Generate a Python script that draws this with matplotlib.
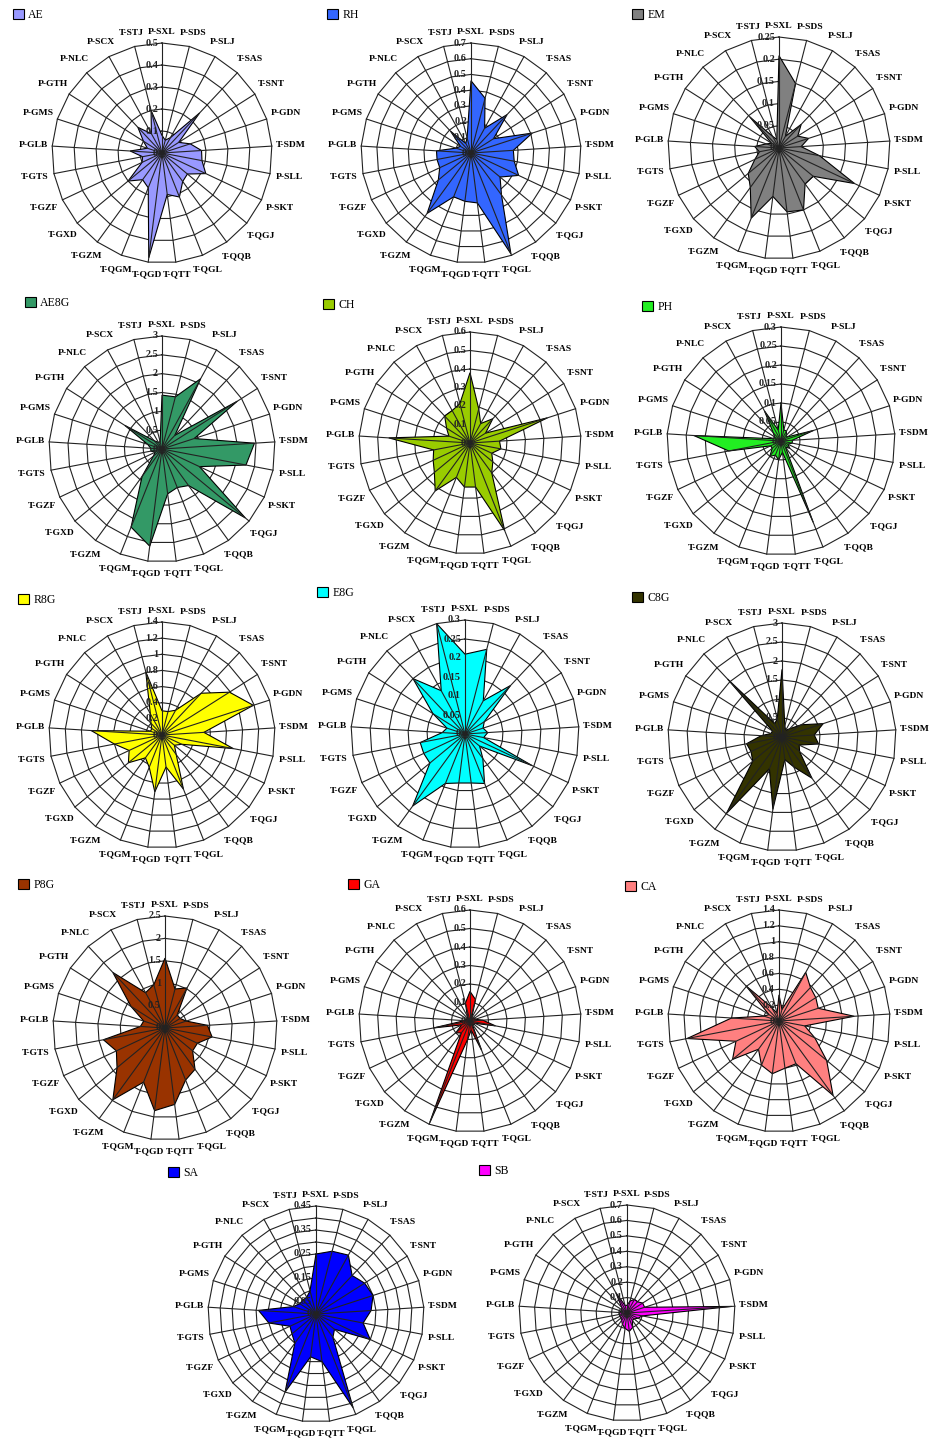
import numpy as np
import matplotlib
matplotlib.use('Agg')
import matplotlib.pyplot as plt
from matplotlib.patches import Patch

categories = ['P-SXL', 'P-SDS', 'P-SLJ', 'T-SAS', 'T-SNT', 'P-GDN', 'T-SDM',
              'P-SLL', 'P-SKT', 'T-QGJ', 'T-QQB', 'T-QGL', 'T-QTT', 'T-QGD',
              'T-QGM', 'T-GZM', 'T-GXD', 'T-GZF', 'T-GTS', 'P-GLB', 'P-GMS',
              'P-GTH', 'P-NLC', 'P-SCX', 'T-STJ']

# values per sample, same order as categories
AE = [0.08, 0.06, 0.08, 0.25, 0.09, 0.135, 0.18, 0.185, 0.22, 0.15, 0.16, 0.215, 0.19,
      0.48, 0.17, 0.15, 0.2, 0.1, 0.09, 0.145, 0.07, 0.1, 0.16, 0.1, 0.2]
RH = [0.46, 0.36, 0.18, 0.335, 0.17, 0.41, 0.27, 0.28, 0.335, 0.24, 0.33, 0.69, 0.32,
      0.31, 0.3, 0.475, 0.27, 0.22, 0.22, 0.22, 0.1, 0.08, 0.19, 0.07, 0.1]
EM = [0.208, 0.15, 0.03, 0.073, 0.05, 0.07, 0.05, 0.093, 0.188, 0.1, 0.1, 0.15, 0.145,
      0.11, 0.17, 0.11, 0.09, 0.06, 0.045, 0.055, 0.03, 0.02, 0.096, 0.03, 0.02]
AE8G = [1.43, 1.43, 2.13, 0.5, 2.37, 0.9, 2.46, 2.27, 1.1, 2.87, 1.2, 1.1, 1.2,
        2.6, 2.23, 0.9, 0.3, 0.2, 0.3, 0.3, 0.4, 1.17, 0.3, 0.2, 0.2]
CH = [0.38, 0.19, 0.12, 0.18, 0.1, 0.44, 0.16, 0.17, 0.13, 0.16, 0.2, 0.51, 0.24,
      0.24, 0.2, 0.32, 0.25, 0.22, 0.2, 0.44, 0.12, 0.15, 0.2, 0.2, 0.22]
PH = [0.1, 0.03, 0.03, 0.02, 0.02, 0.09, 0.03, 0.03, 0.02, 0.03, 0.02, 0.23, 0.03,
      0.05, 0.04, 0.05, 0.03, 0.03, 0.14, 0.23, 0.02, 0.02, 0.03, 0.09, 0.03]
R8G = [0.3, 0.3, 0.35, 0.71, 0.99, 1.19, 0.52, 0.9, 0.27, 0.2, 0.3, 0.72, 0.4,
       0.71, 0.43, 0.35, 0.54, 0.45, 0.6, 0.88, 0.15, 0.15, 0.2, 0.3, 0.81]
E8G = [0.21, 0.23, 0.1, 0.175, 0.06, 0.05, 0.06, 0.05, 0.195, 0.05, 0.08, 0.14, 0.13,
       0.13, 0.14, 0.234, 0.12, 0.12, 0.12, 0.06, 0.05, 0.1, 0.2, 0.13, 0.3]
C8G = [1.78, 0.3, 0.2, 0.3, 0.6, 1.14, 0.85, 0.98, 0.5, 0.6, 1.34, 0.85, 0.6,
       1.92, 0.9, 2.49, 1.0, 0.9, 0.95, 0.55, 0.3, 0.3, 2.09, 0.4, 0.5]
P8G = [1.56, 0.9, 1.02, 0.4, 0.4, 0.5, 0.95, 1.07, 0.8, 0.8, 1.14, 1.25, 1.72,
       1.86, 1.3, 1.98, 1.39, 1.2, 1.4, 0.55, 0.5, 0.9, 1.7, 0.9, 1.0]
GA = [0.16, 0.12, 0.02, 0.02, 0.03, 0.03, 0.07, 0.14, 0.03, 0.03, 0.02, 0.17, 0.05,
      0.1, 0.59, 0.08, 0.1, 0.05, 0.2, 0.03, 0.02, 0.02, 0.02, 0.03, 0.1]
CA = [0.33, 0.15, 0.7, 0.58, 0.55, 0.52, 0.95, 0.33, 0.5, 0.78, 1.16, 0.58, 0.6,
      0.67, 0.6, 0.44, 0.76, 0.6, 1.18, 0.6, 0.2, 0.15, 0.61, 0.2, 0.1]
SA = [0.25, 0.27, 0.28, 0.22, 0.24, 0.25, 0.23, 0.2, 0.25, 0.1, 0.12, 0.42, 0.2,
      0.18, 0.35, 0.15, 0.13, 0.12, 0.2, 0.24, 0.1, 0.08, 0.08, 0.08, 0.1]
SB = [0.05, 0.08, 0.1, 0.1, 0.12, 0.12, 0.68, 0.1, 0.08, 0.06, 0.06, 0.1, 0.12,
      0.1, 0.08, 0.06, 0.05, 0.05, 0.05, 0.05, 0.04, 0.04, 0.05, 0.15, 0.05]

names = ['AE', 'RH', 'EM', 'AE8G', 'CH', 'PH', 'R8G', 'E8G', 'C8G', 'P8G', 'GA', 'CA', 'SA', 'SB']
series = [AE, RH, EM, AE8G, CH, PH, R8G, E8G, C8G, P8G, GA, CA, SA, SB]
colors = ['#9999FF', '#3366FF', '#808080', '#339966', '#99CC00', '#22EE22', '#FFFF00',
          '#00FFFF', '#333300', '#993300', '#FF0000', '#FF8080', '#0000FF', '#FF00FF']
axis_max = [0.5, 0.7, 0.25, 3, 0.6, 0.3, 1.4, 0.3, 3, 2.5, 0.6, 1.4, 0.45, 0.7]
axis_step = [0.1, 0.1, 0.05, 0.5, 0.1, 0.05, 0.2, 0.05, 0.5, 0.5, 0.1, 0.2, 0.05, 0.1]
# SA only shows every other value label
label_every = [1, 1, 1, 1, 1, 1, 1, 1, 1, 1, 1, 1, 2, 1]

# layout in pixels: centre x, centre y, outer radius, legend x, legend y
layout = [(162, 153, 110, 13, 9), (471, 153, 110, 327, 9), (779, 148, 111, 632, 9),
          (162, 449, 113, 25, 297), (470, 443, 111, 323, 299), (781, 441, 114, 642, 301),
          (162, 735, 113, 18, 594), (465, 734, 114, 317, 587), (782, 737, 114, 632, 592),
          (165, 1028, 112, 18, 879), (470, 1021, 111, 348, 879), (779, 1021, 111, 625, 881),
          (316, 1314, 108, 168, 1167), (627, 1313, 108, 479, 1165)]

W, H = 935, 1446
fig = plt.figure(figsize=(W / 100, H / 100), dpi=100)
fig.patch.set_facecolor('white')
FONT = 'Liberation Serif'

n = len(categories)
theta = np.arange(n) * 2 * np.pi / n
tc = np.append(theta, theta[0])

for name, vals, col, vmax, step, every, (cx, cy, R, lx, ly) in zip(
        names, series, colors, axis_max, axis_step, label_every, layout):
    ax = fig.add_axes([(cx - R) / W, (H - cy - R) / H, 2 * R / W, 2 * R / H], projection='polar')
    ax.set_theta_zero_location('N')
    ax.set_theta_direction(-1)
    ax.set_ylim(0, vmax)
    ax.grid(False)
    ax.set_xticks([])
    ax.set_yticks([])
    ax.spines['polar'].set_visible(False)
    ax.patch.set_visible(False)

    rings = np.arange(1, int(round(vmax / step)) + 1) * step
    for rv in rings:
        ax.plot(tc, np.full(n + 1, rv), color='#222222', lw=0.8, zorder=1, clip_on=False)
    v = np.array(vals, dtype=float)
    ax.fill(tc, np.append(v, v[0]), facecolor=col, edgecolor='black', lw=0.8, zorder=2)
    for t in theta:
        ax.plot([t, t], [0, vmax], color='#222222', lw=0.8, zorder=3, clip_on=False)

    shown = [0.0] + [rv for k, rv in enumerate(rings[::-1]) if k % every == 0]
    for rv in shown:
        ax.annotate(f'{rv:g}', xy=(0, rv), xytext=(-4, 0), textcoords='offset pixels',
                    ha='right', va='center', fontsize=7.3, family=FONT, weight='bold',
                    color='#222222', zorder=5, annotation_clip=False)

    # category labels just outside the outer ring
    for t, lab in zip(theta, categories):
        ux, uy = np.sin(t), np.cos(t)
        d = 6 + 13 * abs(ux) + 5 * abs(uy)
        ax.annotate(lab, xy=(t, vmax), xytext=(ux * d, uy * d), textcoords='offset pixels',
                    ha='center', va='center', fontsize=6.8, family=FONT, weight='bold',
                    annotation_clip=False)

    fig.legend(handles=[Patch(facecolor=col, edgecolor='black', lw=0.8, label=name)],
               loc='upper left', bbox_to_anchor=(lx / W, 1 - ly / H),
               frameon=False, borderpad=0, borderaxespad=0, handlelength=0.9,
               handleheight=0.9, handletextpad=0.4, prop={'family': FONT, 'size': 8.5})

fig.savefig('out.png', dpi=100)
